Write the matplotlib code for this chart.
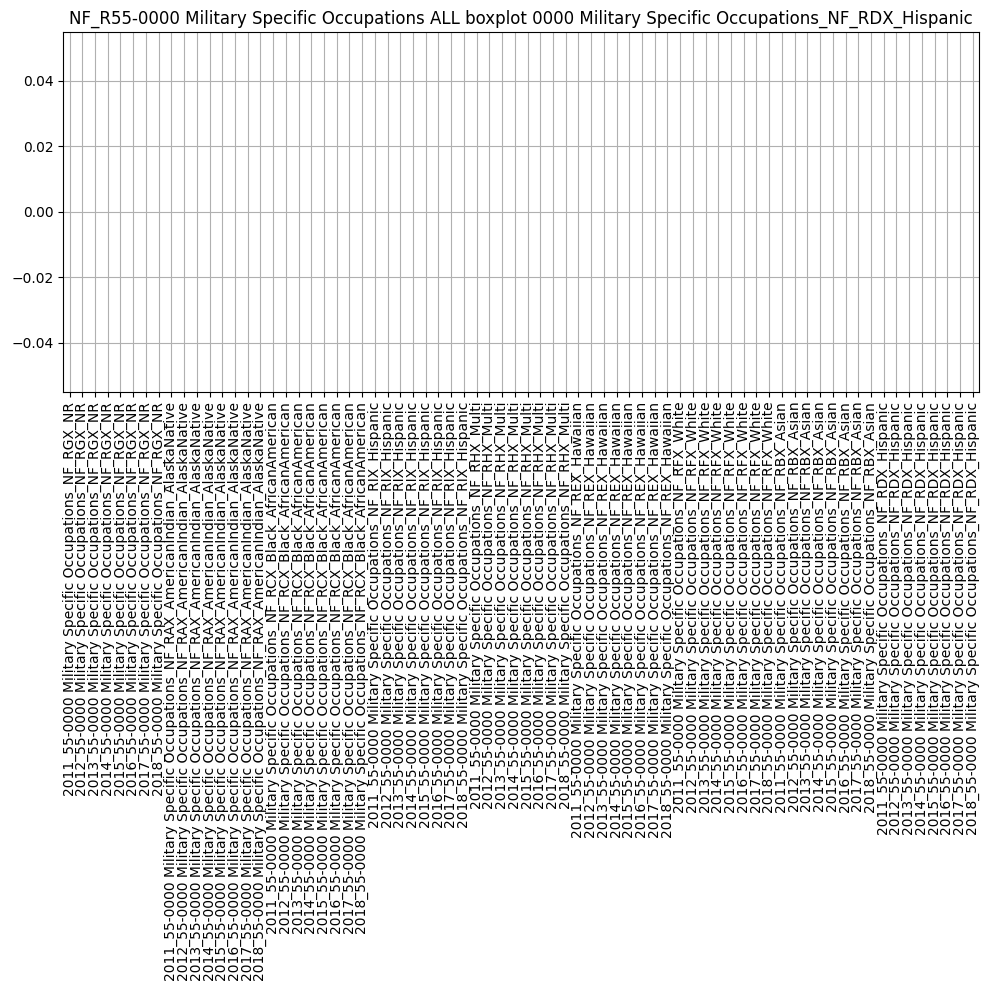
import matplotlib
matplotlib.use('Agg')
import matplotlib.pyplot as plt
import numpy as np

years = ['2011', '2012', '2013', '2014', '2015', '2016', '2017', '2018']
occupation = '55-0000 Military Specific Occupations'
groups = ['NF_RGX_NR', 'NF_RAX_AmericanIndian_AlaskaNative', 'NF_RCX_Black_AfricanAmerican',
          'NF_RIX_Hispanic', 'NF_RHX_Multi', 'NF_REX_Hawaiian', 'NF_RFX_White',
          'NF_RBX_Asian', 'NF_RDX_Hispanic']

labels = [f'{y}_{occupation}_{g}' for g in groups for y in years]
# every column in the source data is empty, so nothing gets drawn
values = [[np.nan] for _ in labels]

title = 'NF_R55-0000 Military Specific Occupations ALL boxplot 0000 Military Specific Occupations_NF_RDX_Hispanic'


def main():
    fig, ax = plt.subplots(figsize=(9.88, 9.9), dpi=100)
    ax.boxplot(values, tick_labels=labels)
    ax.set_xlim(0.5, len(labels) + 0.5)
    ax.set_ylim(-0.055, 0.055)
    ax.grid(True)
    ax.set_title(title)
    plt.setp(ax.get_xticklabels(), rotation=90)
    fig.subplots_adjust(left=0.064, right=0.991, top=0.968, bottom=0.604)
    fig.savefig('out.png')


if __name__ == "__main__":
    main()
